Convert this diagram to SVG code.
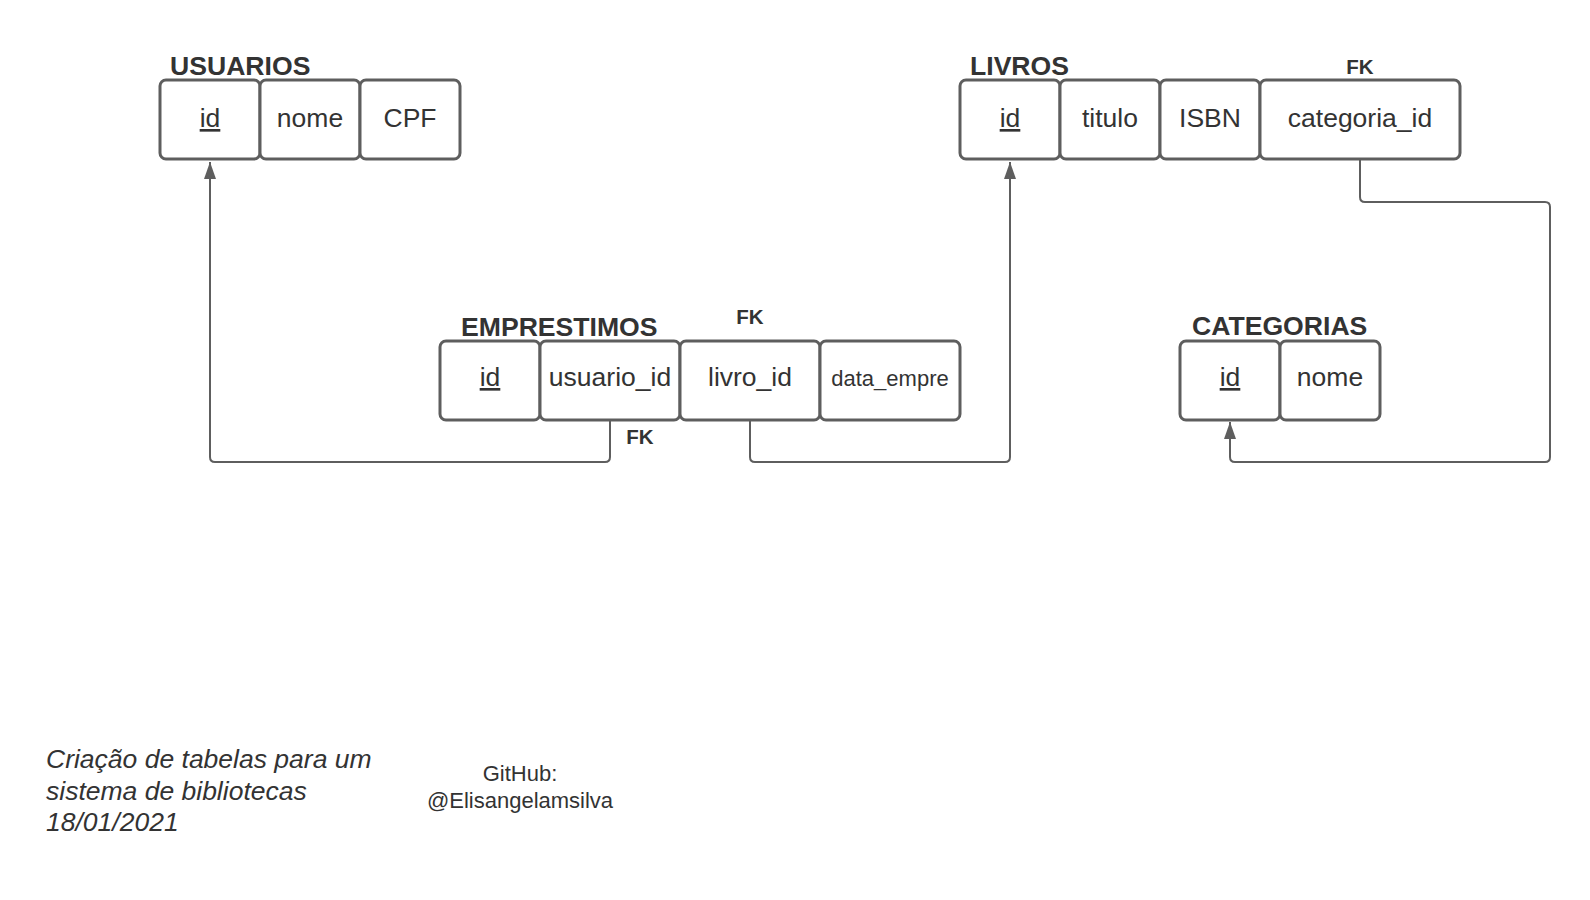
<svg xmlns="http://www.w3.org/2000/svg" width="1590" height="900" viewBox="0 0 1590 900">
<style>
.box{fill:#ffffff;stroke:#5e5e5e;stroke-width:3}
.f{font-family:"Liberation Sans",Arial,sans-serif;fill:#333333}
.cell{font-size:26.5px;text-anchor:middle}
.small{font-size:22px;text-anchor:middle}
.title{font-size:26.6px;font-weight:bold}
.fk{font-size:20.5px;font-weight:bold;text-anchor:middle}
.pk{text-decoration:underline}
.conn{fill:none;stroke:#5e5e5e;stroke-width:2}
</style>
<defs>
<marker id="arr" viewBox="0 0 17 12" refX="17" refY="6" markerWidth="17" markerHeight="12" markerUnits="userSpaceOnUse" orient="auto">
<path d="M0,0 L17,6 L0,12 z" fill="#5e5e5e"/>
</marker>
</defs>
<rect width="1590" height="900" fill="#ffffff"/>
<g id="connectors">
<path class="conn" d="M610,421 V457 Q610,462 605,462 H215 Q210,462 210,457 V162" marker-end="url(#arr)"/>
<path class="conn" d="M750,421 V457 Q750,462 755,462 H1005 Q1010,462 1010,457 V162" marker-end="url(#arr)"/>
<path class="conn" d="M1360,160 V197 Q1360,202 1365,202 H1545 Q1550,202 1550,207 V457 Q1550,462 1545,462 H1235 Q1230,462 1230,457 V422" marker-end="url(#arr)"/>
</g>
<g id="usuarios">
<text class="f title" x="170" y="75">USUARIOS</text>
<rect class="box" x="160" y="80" width="100" height="79" rx="6"/>
<rect class="box" x="260" y="80" width="100" height="79" rx="6"/>
<rect class="box" x="360" y="80" width="100" height="79" rx="6"/>
<text class="f cell pk" x="210" y="127">id</text>
<text class="f cell" x="310" y="127">nome</text>
<text class="f cell" x="410" y="127">CPF</text>
</g>
<g id="livros">
<text class="f title" x="970" y="75">LIVROS</text>
<text class="f fk" x="1360" y="74">FK</text>
<rect class="box" x="960" y="80" width="100" height="79" rx="6"/>
<rect class="box" x="1060" y="80" width="100" height="79" rx="6"/>
<rect class="box" x="1160" y="80" width="100" height="79" rx="6"/>
<rect class="box" x="1260" y="80" width="200" height="79" rx="6"/>
<text class="f cell pk" x="1010" y="127">id</text>
<text class="f cell" x="1110" y="127">titulo</text>
<text class="f cell" x="1210" y="127">ISBN</text>
<text class="f cell" x="1360" y="127">categoria_id</text>
</g>
<g id="emprestimos">
<text class="f title" x="461" y="336">EMPRESTIMOS</text>
<text class="f fk" x="750" y="324">FK</text>
<text class="f fk" x="640" y="444">FK</text>
<rect class="box" x="440" y="341" width="100" height="79" rx="6"/>
<rect class="box" x="540" y="341" width="140" height="79" rx="6"/>
<rect class="box" x="680" y="341" width="140" height="79" rx="6"/>
<rect class="box" x="820" y="341" width="140" height="79" rx="6"/>
<text class="f cell pk" x="490" y="386">id</text>
<text class="f cell" x="610" y="386">usuario_id</text>
<text class="f cell" x="750" y="386">livro_id</text>
<text class="f small" x="890" y="386">data_empre</text>
</g>
<g id="categorias">
<text class="f title" x="1192" y="335">CATEGORIAS</text>
<rect class="box" x="1180" y="341" width="100" height="79" rx="6"/>
<rect class="box" x="1280" y="341" width="100" height="79" rx="6"/>
<text class="f cell pk" x="1230" y="386">id</text>
<text class="f cell" x="1330" y="386">nome</text>
</g>
<g id="caption">
<text class="f" font-size="26.5" font-style="italic" x="46" y="768">Criação de tabelas para um</text>
<text class="f" font-size="26.5" font-style="italic" x="46" y="800">sistema de bibliotecas</text>
<text class="f" font-size="26.5" font-style="italic" x="46" y="831">18/01/2021</text>
</g>
<g id="github">
<text class="f" font-size="22" text-anchor="middle" x="520" y="781">GitHub:</text>
<text class="f" font-size="22" text-anchor="middle" x="520" y="808">@Elisangelamsilva</text>
</g>
</svg>
